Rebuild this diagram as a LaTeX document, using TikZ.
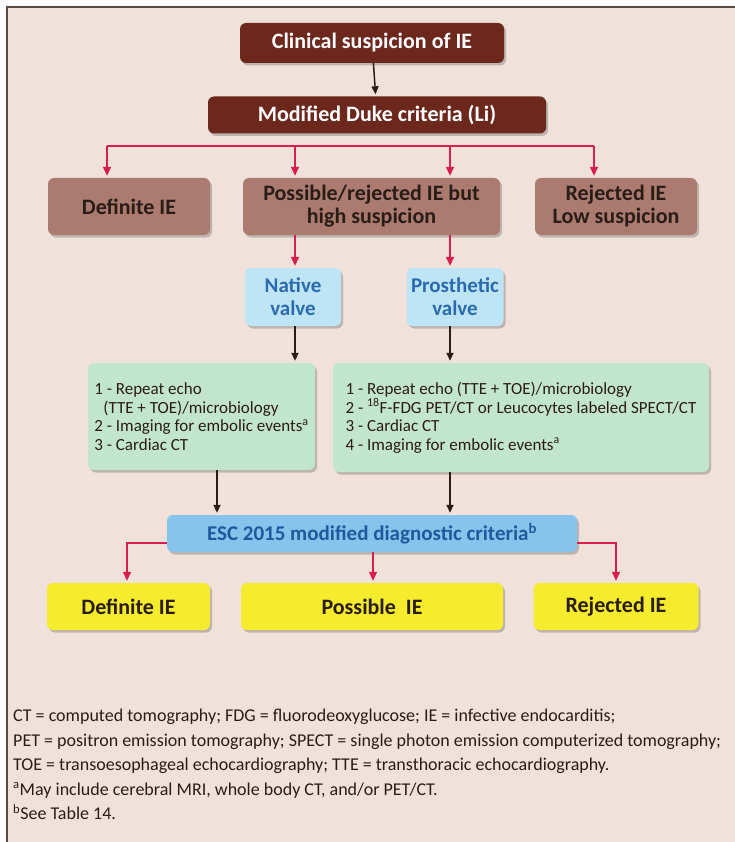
\documentclass[tikz,border=0pt]{standalone}
\usepackage{fontspec}
\setmainfont{Carlito}
\usetikzlibrary{shadows,arrows.meta,calc}

\definecolor{bg}{HTML}{F0E2DB}
\definecolor{darkbrown}{HTML}{6C281D}
\definecolor{lightbrown}{HTML}{AA7B6E}
\definecolor{lblue}{HTML}{BDE5F6}
\definecolor{lbluetext}{HTML}{2C6AB0}
\definecolor{green1}{HTML}{C2E5CF}
\definecolor{escblue}{HTML}{88C3EC}
\definecolor{esctext}{HTML}{1E5A9C}
\definecolor{yel}{HTML}{F4EC2C}
\definecolor{redc}{HTML}{D81F4B}
\definecolor{txt}{HTML}{2A1C17}
\definecolor{framec}{HTML}{5B4A44}

\begin{document}
\begin{tikzpicture}[x=1pt,y=-1pt,
 box/.style={rounded corners=6pt, inner sep=0pt, align=center,
   font=\fontsize{22}{23}\selectfont\bfseries,
   drop shadow={shadow xshift=2pt,shadow yshift=-2.5pt,opacity=0.3,fill=black!70}},
 dbox/.style={box, fill=darkbrown, text=white},
 bbox/.style={box, fill=lightbrown, text=txt},
 vbox/.style={box, fill=lblue, text=lbluetext, font=\fontsize{21}{23}\selectfont\bfseries},
 gbox/.style={box, fill=green1, text=txt, font=\fontsize{17}{18.5}\selectfont, align=left},
 ebox/.style={box, fill=escblue, text=esctext, font=\fontsize{21}{23}\selectfont\bfseries},
 ybox/.style={box, fill=yel, text=txt},
 redarr/.style={draw=redc, line width=1.4pt, shorten >=2pt, -{Triangle[width=8pt,length=9pt]}},
 redln/.style={draw=redc, line width=1.4pt},
 blkarr/.style={draw=txt, line width=1.5pt, shorten >=2pt, -{Triangle[width=7pt,length=8pt]}},
 foot/.style={inner sep=0pt, align=left, text=txt, font=\fontsize{18}{24.5}\selectfont},
]
\path[use as bounding box] (0,0) rectangle (735,842);
\fill[white] (0,0) rectangle (735,842);
\fill[bg] (7,7) rectangle (735,842);
\draw[framec, line width=1.2pt] (7,842) -- (7,7) -- (735,7);

% nodes
\node[dbox, minimum width=264pt, minimum height=40pt] (clin) at (372,43) {Clinical suspicion of IE};
\node[dbox, minimum width=338pt, minimum height=37pt] (duke) at (377,115) {Modified Duke criteria (Li)};

\node[bbox, minimum width=162pt, minimum height=57pt] (def1) at (129,206.5) {Definite IE};
\node[bbox, minimum width=257pt, minimum height=57pt] (poss) at (371.5,206.5) {Possible/rejected IE but\\high suspicion};
\node[bbox, minimum width=162pt, minimum height=57pt] (rej1) at (616,206.5) {Rejected IE\\Low suspicion};

\node[vbox, minimum width=96pt, minimum height=58pt] (native) at (293,297) {Native\\valve};
\node[vbox, minimum width=97pt, minimum height=58pt] (prost) at (455,297) {Prosthetic\\valve};

\node[gbox, minimum width=227pt, minimum height=107pt] (gL) at (201.5,416.5)
 {1 - Repeat echo\\\hspace*{9pt}(TTE + TOE)/microbiology\\2 - Imaging for embolic events\textsuperscript{a}\\3 - Cardiac CT};
\node[gbox, minimum width=376pt, minimum height=109pt] (gR) at (521,417.5)
 {1 - Repeat echo (TTE + TOE)/microbiology\\2 - \textsuperscript{18}F-FDG PET/CT or Leucocytes labeled SPECT/CT\\3 - Cardiac CT\\4 - Imaging for embolic events\textsuperscript{a}};

\node[ebox, minimum width=410pt, minimum height=37pt] (esc) at (372,533.5) {ESC 2015 modified diagnostic criteria\textsuperscript{b}};

\node[ybox, minimum width=163pt, minimum height=47pt] (def2) at (128.5,606.5) {Definite IE};
\node[ybox, minimum width=262pt, minimum height=47pt] (poss2) at (372,606.5) {Possible\ \ IE};
\node[ybox, minimum width=165pt, minimum height=47pt] (rej2) at (616,606.5) {Rejected IE};

\node[foot, anchor=north west] (notes) at (13,709)
 {CT = computed tomography; FDG = fluorodeoxyglucose; IE = infective endocarditis;\\
  PET = positron emission tomography; SPECT = single photon emission computerized tomography;\\
  TOE = transoesophageal echocardiography; TTE = transthoracic echocardiography.\\
  \textsuperscript{a}May include cerebral MRI, whole body CT, and/or PET/CT.\\
  \textsuperscript{b}See Table 14.};

% coordinates for connector columns
\coordinate (busL) at (107,146);
\coordinate (busA) at (295,146);
\coordinate (busB) at (450,146);
\coordinate (busR) at (594,146);
\coordinate (colN) at (295,0);
\coordinate (colP) at (450,0);
\coordinate (colG) at (217,0);
\coordinate (cL) at (127,0);
\coordinate (cM) at (373,0);
\coordinate (cR) at (616,0);

% connectors
\draw[blkarr] (clin) -- (duke);
\draw[redln] (busL) -- (busR);
\draw[redarr] (busL) -- (busL |- def1.north);
\draw[redarr] (busA) -- (busA |- poss.north);
\draw[redarr] (busB) -- (busB |- poss.north);
\draw[redarr] (busR) -- (busR |- rej1.north);

\draw[redarr] (colN |- poss.south) -- (colN |- native.north);
\draw[redarr] (colP |- poss.south) -- (colP |- prost.north);

\draw[blkarr] (colN |- native.south) -- (colN |- gL.north);
\draw[blkarr] (colP |- prost.south) -- (colP |- gR.north);

\draw[blkarr] (colG |- gL.south) -- (colG |- esc.north);
\draw[blkarr] (colP |- gR.south) -- (colP |- esc.north);

\draw[redarr] ([yshift=-9.5pt]esc.west) -| (cL |- def2.north);
\draw[redarr] (cM |- esc.south) -- (cM |- poss2.north);
\draw[redarr] ([yshift=-9.5pt]esc.east) -| (cR |- rej2.north);
\end{tikzpicture}
\end{document}
